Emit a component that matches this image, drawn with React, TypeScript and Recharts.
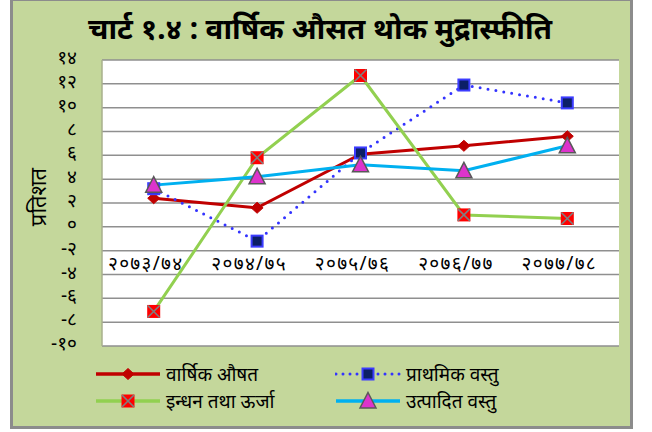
import React from 'react';
import { LineChart, Line, XAxis, YAxis, CartesianGrid, ReferenceDot } from 'recharts';

const categories = ['२०७३/७४', '२०७४/७५', '२०७५/७६', '२०७६/७७', '२०७७/७८'];
const annualAverage = [2.4, 1.6, 6.1, 6.8, 7.6];
const primaryGoods = [3.2, -1.2, 6.2, 11.9, 10.4];
const fuelEnergy = [-7.1, 5.8, 12.7, 1.0, 0.7];
const manufactured = [3.5, 4.2, 5.2, 4.7, 6.8];
const yTicks = [-10, -8, -6, -4, -2, 0, 2, 4, 6, 8, 10, 12, 14];
const yTickLabels = ['-१०', '-८', '-६', '-४', '-२', '०', '२', '४', '६', '८', '१०', '१२', '१४'];
const seriesNames = ['वार्षिक औषत', 'प्राथमिक वस्तु', 'इन्धन तथा ऊर्जा', 'उत्पादित वस्तु'];
const title = 'चार्ट १.४ : वार्षिक औसत थोक मुद्रास्फीति';
const yAxisTitle = 'प्रतिशत';
const xLabelLevel = -3;

const data = categories.map((cat, i) => ({
  cat,
  annual: annualAverage[i],
  primary: primaryGoods[i],
  fuel: fuelEnergy[i],
  manuf: manufactured[i],
}));

const FONT = '"Noto Sans", "Noto Sans Devanagari", sans-serif';

const Diamond = ({ cx, cy }: any) => (
  <polygon points={`${cx},${cy - 5.5} ${cx + 6},${cy} ${cx},${cy + 5.5} ${cx - 6},${cy}`} fill="#c00000" stroke="#c00000" strokeWidth={1} />
);
const BlueSquare = ({ cx, cy }: any) => (
  <rect x={cx - 5.5} y={cy - 5.5} width={11} height={11} fill="#0c1f66" stroke="#3c3cff" strokeWidth={2} />
);
const XSquare = ({ cx, cy }: any) => (
  <g>
    <rect x={cx - 6.5} y={cy - 6.5} width={13} height={13} fill="#ff0000" />
    <line x1={cx - 6} y1={cy - 6} x2={cx + 6} y2={cy + 6} stroke="#7f7f7f" strokeWidth={1.6} />
    <line x1={cx + 6} y1={cy - 6} x2={cx - 6} y2={cy + 6} stroke="#7f7f7f" strokeWidth={1.6} />
  </g>
);
const Triangle = ({ cx, cy }: any) => (
  <polygon points={`${cx},${cy - 8.5} ${cx + 8},${cy + 7} ${cx - 8},${cy + 7}`} fill="#dd33cc" stroke="#595959" strokeWidth={1.5} />
);

const YTick = ({ x, y, payload }: any) => {
  const idx = yTicks.indexOf(payload.value);
  return (
    <text x={x} y={y} dy={-3} textAnchor="end" dominantBaseline="central" fontSize={19} fill="#000" fontFamily={FONT}>
      {yTickLabels[idx]}
    </text>
  );
};

const LegendItem = ({ left, top, color, dashed, marker, label }: any) => (
  <>
    <svg width={66} height={20} style={{ position: 'absolute', left, top: top - 10, display: 'block' }}>
      <line x1={1} y1={10} x2={65} y2={10} stroke={color} strokeWidth={dashed ? 3 : 3.5}
        strokeDasharray={dashed ? '0 7' : undefined} strokeLinecap={dashed ? 'round' : 'butt'} />
      {marker(33, 10)}
    </svg>
    <div style={{ position: 'absolute', left: left + 71, top: top - 14, lineHeight: '28px', height: 28, fontSize: 19, fontFamily: FONT, color: '#000', whiteSpace: 'nowrap' }}>{label}</div>
  </>
);

export default function App() {
  return (
    <div style={{ position: 'absolute', left: 0, top: 0, width: 652, height: 432, overflow: 'hidden', background: '#fff' }}>
      <div style={{ position: 'absolute', left: 10, top: -2, width: 617, height: 425, background: '#c4d79b', border: '3px solid #8c8c8c' }} />
      <div style={{ position: 'absolute', left: 0, top: 7, width: 640, textAlign: 'center', fontSize: 29.5, fontWeight: 'bold', fontFamily: FONT, color: '#000', lineHeight: '42px', whiteSpace: 'nowrap' }}>
        {title}
      </div>
      <div style={{ position: 'absolute', left: 37, top: 197, transform: 'translate(-50%, -50%) rotate(-90deg)', fontSize: 22, fontFamily: FONT, color: '#000', whiteSpace: 'nowrap' }}>
        {yAxisTitle}
      </div>
      <div style={{ position: 'absolute', left: 0, top: 0 }}>
        <LineChart width={652} height={432} data={data} margin={{ top: 60, right: 33, bottom: 86, left: 0 }}>
          <CartesianGrid vertical={false} stroke="#8f8f8f" strokeWidth={1.5} fill="#ffffff" fillOpacity={1} />
          <XAxis dataKey="cat" hide padding={{ left: 51.7, right: 51.7 }} />
          <YAxis domain={[-10, 14]} ticks={yTicks} interval={0} width={102} tickSize={0} tickMargin={25}
            tickLine={false} axisLine={{ stroke: '#a8b08c', strokeWidth: 1.5 }} tick={<YTick />} />
          {categories.map((c) => (
            <ReferenceDot key={c} x={c} y={xLabelLevel} r={0} ifOverflow="visible"
              shape={(p: any) => (
                <text x={p.cx - 8} y={p.cy} textAnchor="middle" dominantBaseline="central" fontSize={19} letterSpacing={1.3} fill="#000" fontFamily={FONT}>{c}</text>
              )} />
          ))}
          <Line dataKey="annual" stroke="#c00000" strokeWidth={3} isAnimationActive={false}
            dot={(p: any) => <Diamond key={`a${p.index}`} cx={p.cx} cy={p.cy} />} />
          <Line dataKey="primary" stroke="#3333ff" strokeWidth={3} strokeDasharray="0 8" strokeLinecap="round" isAnimationActive={false}
            dot={(p: any) => <BlueSquare key={`p${p.index}`} cx={p.cx} cy={p.cy} />} />
          <Line dataKey="fuel" stroke="#92d050" strokeWidth={3} isAnimationActive={false}
            dot={(p: any) => <XSquare key={`f${p.index}`} cx={p.cx} cy={p.cy} />} />
          <Line dataKey="manuf" stroke="#00b0f0" strokeWidth={3} isAnimationActive={false}
            dot={(p: any) => <Triangle key={`m${p.index}`} cx={p.cx} cy={p.cy} />} />
        </LineChart>
      </div>
      <LegendItem left={95} top={374} color="#c00000" label={seriesNames[0]} marker={(x: number, y: number) => <Diamond cx={x} cy={y} />} />
      <LegendItem left={335} top={374} color="#3333ff" dashed label={seriesNames[1]} marker={(x: number, y: number) => <BlueSquare cx={x} cy={y} />} />
      <LegendItem left={95} top={401} color="#92d050" label={seriesNames[2]} marker={(x: number, y: number) => <XSquare cx={x} cy={y} />} />
      <LegendItem left={335} top={401} color="#00b0f0" label={seriesNames[3]} marker={(x: number, y: number) => <Triangle cx={x} cy={y} />} />
    </div>
  );
}
